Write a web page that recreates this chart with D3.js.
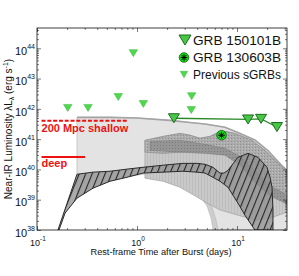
<!DOCTYPE html>
<html><head><meta charset="utf-8">
<script src="https://cdn.jsdelivr.net/npm/d3@7"></script>
<style>
body{margin:0;background:#fff}
svg{display:block}
text{font-family:"Liberation Sans",Arial,Helvetica,sans-serif}
</style>
</head><body>
<svg id="chart" width="299" height="276"></svg>
<script>
// ---------------- data (t in days, log10 luminosity in erg/s) ----------------
const xMajor = [0.1, 1, 10];
const yMajorExp = [38, 39, 40, 41, 42, 43, 44];
const legendLabels = ["GRB 150101B", "GRB 130603B", "Previous sGRBs"];

const grb150101B_t    = [2.34, 12.9, 17.4, 25.1];
const grb150101B_logL = [41.69, 41.65, 41.67, 41.40];

const grb130603B_t    = [7.0];
const grb130603B_logL = [41.13];

const prevSGRB_t    = [0.203, 0.324, 0.650, 0.919, 1.157, 3.52, 3.49];
const prevSGRB_logL = [42.03, 42.03, 42.39, 43.84, 42.16, 42.42, 41.96];

const shallow_t = [0.111, 0.807];
const shallow_logL = [41.61, 41.61];
const deep_t = [0.111, 0.303];
const deep_logL = [40.41, 40.41];

// model envelopes: [t, log10 L]
const envelopeUpper = [[0.251,41.72],[0.537,41.72],[1.0,41.70],[2.14,41.62],[3.39,41.55],[4.79,41.50],[7.59,41.39],[10.2,41.22],[15.1,40.97],[20.4,40.62],[28.2,40.12],[31.6,39.97]];
const envelopeLower = [[0.251,39.10],[0.363,39.42],[0.537,39.62],[0.794,39.76],[1.148,39.84],[1.82,39.84],[2.69,39.78],[3.80,39.58],[4.57,39.32],[5.25,38.99],[5.62,38.66],[5.75,38.33],[5.89,38.0],[31.6,38.0]];

const stripUpper = [[2.40,39.61],[3.39,39.38],[4.27,39.12],[5.01,38.79],[5.50,38.39],[5.75,38.0]];
const stripLower = [[2.88,39.58],[3.80,39.38],[4.79,39.12],[5.62,38.76],[6.17,38.33],[6.46,38.0]];

const midUpper = [[1.20,40.96],[1.82,41.09],[2.69,41.19],[3.39,41.13],[4.27,41.03],[5.37,41.09],[6.46,41.22],[7.59,41.26],[9.55,41.19],[14.1,40.96],[19.05,40.63],[25.7,40.20],[31.6,39.97]];
const midLower = [[1.20,39.71],[1.82,39.61],[2.69,39.41],[3.98,39.09],[5.01,38.89],[6.76,38.66],[10.2,38.49],[15.1,38.33],[21.4,38.39],[31.6,38.59]];

const stippleUpper = midUpper;
const stippleLower = [[1.20,40.57],[1.82,40.53],[2.69,40.57],[3.80,40.63],[5.37,40.63],[7.08,40.63],[8.91,40.53],[11.2,40.30],[15.1,39.91],[21.4,39.48],[31.6,39.15]];

const darkUpper = [[1.35,40.93],[2.69,40.96],[4.79,40.83],[7.59,40.70],[10.7,40.43],[15.1,39.97],[21.4,39.45],[31.6,39.15]];
const darkLower = [[1.35,40.63],[2.69,40.57],[4.79,40.53],[7.59,40.47],[10.7,40.14],[15.1,39.58],[21.4,39.12],[31.6,38.86]];

const hatchUpper = [[0.162,38.0],[0.251,39.84],[0.363,39.91],[0.537,39.94],[0.794,40.01],[1.148,40.07],[1.82,40.14],[2.88,40.20],[3.98,40.20],[4.79,40.17],[5.75,40.07],[6.76,39.88],[7.41,39.88],[8.13,39.97],[10.2,40.40],[12.9,40.53],[16.2,40.40],[19.95,40.07],[21.4,39.74],[22.4,39.41],[22.9,38.66],[22.9,38.0]];
const hatchLower = [[0.166,38.0],[0.191,38.56],[0.251,39.05],[0.363,39.38],[0.537,39.61],[0.794,39.74],[1.148,39.88],[1.82,39.91],[2.88,39.94],[3.98,39.91],[4.79,39.88],[5.75,39.74],[6.76,39.61],[8.13,39.41],[10.2,38.89],[12.0,38.49],[15.1,38.0]];

// ---------------- layout ----------------
const L = 37, R = 287, T = 28, B = 230;
const svg = d3.select("#chart");
const x = d3.scaleLog().domain([0.1, Math.pow(10, 1.5)]).range([L, R]);
const y = d3.scaleLog().domain([1e38, Math.pow(10, 44.67)]).range([B, T]);
const px = d => x(d[0]), py = d => y(Math.pow(10, d[1]));

const defs = svg.append("defs");
defs.append("clipPath").attr("id","clip").append("rect").attr("x",L).attr("y",T).attr("width",R-L).attr("height",B-T);

const hp = defs.append("pattern").attr("id","hatch").attr("patternUnits","userSpaceOnUse")
  .attr("width",6).attr("height",6).attr("patternTransform","rotate(22)");
hp.append("rect").attr("width",6).attr("height",6).attr("fill","#8c8c8c").attr("fill-opacity",0.72);
hp.append("rect").attr("x",0).attr("y",0).attr("width",1.1).attr("height",6).attr("fill","#262626");

const vp = defs.append("pattern").attr("id","vstripe").attr("patternUnits","userSpaceOnUse").attr("width",3).attr("height",3);
vp.append("rect").attr("width",3).attr("height",3).attr("fill","#c9c9c9");
vp.append("rect").attr("width",1).attr("height",3).attr("fill","#bdbdbd");

const sp = defs.append("pattern").attr("id","stip").attr("patternUnits","userSpaceOnUse").attr("width",3).attr("height",3);
sp.append("rect").attr("width",3).attr("height",3).attr("fill","#acacac");
sp.append("rect").attr("x",0).attr("y",0).attr("width",1).attr("height",1).attr("fill","#8e8e8e");
sp.append("rect").attr("x",2).attr("y",1).attr("width",1).attr("height",1).attr("fill","#c0c0c0");

const dp = defs.append("pattern").attr("id","dstip").attr("patternUnits","userSpaceOnUse").attr("width",3).attr("height",3);
dp.append("rect").attr("width",3).attr("height",3).attr("fill","#959595");
dp.append("rect").attr("x",1).attr("y",1).attr("width",1).attr("height",1).attr("fill","#7c7c7c");

const plot = svg.append("g").attr("clip-path","url(#clip)");
const line = d3.line().x(px).y(py);
function band(upper, lower, fill, stroke, sw){
  const pts = upper.concat(lower.slice().reverse());
  plot.append("path").attr("d", line(pts) + "Z")
    .attr("fill", fill).attr("stroke", stroke).attr("stroke-width", sw).attr("stroke-linejoin","round");
}

band(envelopeUpper, envelopeLower, "#e3e3e3", "#b4b4b4", 0.6);
plot.append("path").attr("d", line(envelopeUpper)).attr("fill","none").attr("stroke","#a3a3a3").attr("stroke-width",1.6);
band(stripUpper, stripLower, "#cdcdcd", "#b0b0b0", 0.5);
band(midUpper, midLower, "url(#vstripe)", "#9a9a9a", 0.6);
band(stippleUpper, stippleLower, "url(#stip)", "#808080", 0.5);
band(darkUpper, darkLower, "url(#dstip)", "#707070", 0.4);
band(hatchUpper, hatchLower, "url(#hatch)", "#2a2a2a", 1.0);

// ---------------- red limits ----------------
const shallowPts = shallow_t.map((t,i)=>[t, shallow_logL[i]]);
const deepPts = deep_t.map((t,i)=>[t, deep_logL[i]]);
svg.append("path").attr("d", line(shallowPts)).attr("stroke","#ee1111").attr("stroke-width",2).attr("stroke-dasharray","4,1.8").attr("fill","none");
svg.append("path").attr("d", line(deepPts)).attr("stroke","#ee1111").attr("stroke-width",2).attr("fill","none");
svg.append("text").attr("x", px(shallowPts[0])).attr("y", py(shallowPts[0]) + 11.5)
  .attr("fill","#ee1111").style("font-size","11px").style("font-weight","bold").text("200 Mpc shallow");
svg.append("text").attr("x", px(deepPts[0])).attr("y", py(deepPts[0]) + 10)
  .attr("fill","#ee1111").style("font-size","11px").style("font-weight","bold").text("deep");

// ---------------- markers ----------------
function tri(w,h){ return `M${-w/2},${-h/2}L${w/2},${-h/2}L0,${h/2}Z`; }
const prevPts = prevSGRB_t.map((t,i)=>[t, prevSGRB_logL[i]]);
svg.selectAll(".prev").data(prevPts).join("path")
  .attr("transform", d=>`translate(${px(d)},${py(d)})`).attr("d", tri(8.5,7))
  .attr("fill","#4fd84f").attr("stroke","#3cb83c").attr("stroke-width",0.5);

const g15 = grb150101B_t.map((t,i)=>[t, grb150101B_logL[i]]);
svg.append("path").attr("d", line(g15)).attr("fill","none").attr("stroke","#2a8a2a").attr("stroke-width",1.3);
svg.selectAll(".g15").data(g15).join("path")
  .attr("transform", d=>`translate(${px(d)},${py(d)})`).attr("d", tri(11,9))
  .attr("fill","#46c846").attr("stroke","#1d6b1d").attr("stroke-width",1);

function asterisk(g, r){
  g.append("circle").attr("r", r).attr("fill","#12e012").attr("stroke","#0b5e0b").attr("stroke-width",0.8);
  [0,45,90,135].forEach(a=>{
    const rad = a*Math.PI/180, l = r*0.7;
    g.append("line").attr("x1",-l*Math.cos(rad)).attr("y1",-l*Math.sin(rad))
      .attr("x2",l*Math.cos(rad)).attr("y2",l*Math.sin(rad)).attr("stroke","#000").attr("stroke-width",1);
  });
}
const g13 = grb130603B_t.map((t,i)=>[t, grb130603B_logL[i]]);
g13.forEach(d=>asterisk(svg.append("g").attr("transform",`translate(${px(d)},${py(d)})`), 4.8));

// ---------------- legend ----------------
const legX = 185, legTx = 193, legY = [40, 57.5, 74.5];
svg.append("path").attr("transform",`translate(${legX},${legY[0]})`).attr("d",tri(12,10))
  .attr("fill","#46c846").attr("stroke","#1d6b1d").attr("stroke-width",1);
asterisk(svg.append("g").attr("transform",`translate(${legX-1},${legY[1]})`), 4.8);
svg.append("path").attr("transform",`translate(${legX-1},${legY[2]})`).attr("d",tri(7.5,6.5))
  .attr("fill","#4fd84f").attr("stroke","#3cb83c").attr("stroke-width",0.5);
legendLabels.forEach((s,i)=>{
  svg.append("text").attr("x",legTx).attr("y",legY[i]).attr("dy","0.36em")
    .attr("textLength",88).attr("lengthAdjust","spacingAndGlyphs")
    .style("font-size","12.5px").attr("fill","#111").text(s);
});

// ---------------- axes ----------------
const xMinor = [];
for (let e=-1; e<=1; e++) for (let m=2; m<=9; m++){ const v=m*Math.pow(10,e); if (v < Math.pow(10,1.5)) xMinor.push(v); }
const yMajor = yMajorExp.map(e=>Math.pow(10,e));
const yMinor = [];
for (let e=38; e<=44; e++) for (let m=2; m<=9; m++){ const v=m*Math.pow(10,e); if (v < Math.pow(10,44.67)) yMinor.push(v); }

function ax(gen, vals, size, tr){
  const g = svg.append("g").attr("transform", tr)
    .call(gen.tickValues(vals).tickSizeInner(-size).tickSizeOuter(0).tickFormat(""));
  g.select(".domain").remove();
  g.selectAll("line").attr("stroke","#222").attr("stroke-width",0.6);
  g.selectAll("text").remove();
}
ax(d3.axisBottom(x), xMajor, 4, `translate(0,${B})`);
ax(d3.axisBottom(x), xMinor, 2, `translate(0,${B})`);
ax(d3.axisTop(x), xMajor, 4, `translate(0,${T})`);
ax(d3.axisTop(x), xMinor, 2, `translate(0,${T})`);
ax(d3.axisLeft(y), yMajor, 4, `translate(${L},0)`);
ax(d3.axisLeft(y), yMinor, 2, `translate(${L},0)`);
ax(d3.axisRight(y), yMajor, 4, `translate(${R},0)`);
ax(d3.axisRight(y), yMinor, 2, `translate(${R},0)`);

svg.append("rect").attr("x",L).attr("y",T).attr("width",R-L).attr("height",B-T)
  .attr("fill","none").attr("stroke","#111").attr("stroke-width",0.8);

// tick labels
xMajor.forEach(v=>{
  const t = svg.append("text").attr("x", x(v)+1).attr("y", 245.7).attr("text-anchor","middle")
    .style("font-size","9px").attr("fill","#111");
  t.append("tspan").text("10");
  t.append("tspan").attr("dy",-5).style("font-size","6.5px").text(String(Math.round(Math.log10(v))));
});
yMajor.forEach((v,i)=>{
  const t = svg.append("text").attr("x", 35).attr("y", y(v)+6.7).attr("text-anchor","end")
    .style("font-size","11px").attr("fill","#111");
  t.append("tspan").text("10");
  t.append("tspan").attr("dy",-6).style("font-size","7px").text(String(yMajorExp[i]));
});

// axis titles
svg.append("text").attr("x", 161).attr("y", 255).attr("text-anchor","middle")
  .style("font-size","9.2px").attr("fill","#111").text("Rest-frame Time after Burst (days)");
const yl = svg.append("text").attr("transform",`translate(12,${(T+B)/2}) rotate(-90)`).attr("text-anchor","middle")
  .style("font-size","10px").attr("fill","#111");
yl.append("tspan").text("Near-IR Luminosity \u03bbL");
yl.append("tspan").attr("dy",2).style("font-size","7px").text("\u03bb");
yl.append("tspan").attr("dy",-2).text(" (erg s");
yl.append("tspan").attr("dy",-4).style("font-size","7px").text("-1");
yl.append("tspan").attr("dy",4).text(")");
</script>
</body></html>
